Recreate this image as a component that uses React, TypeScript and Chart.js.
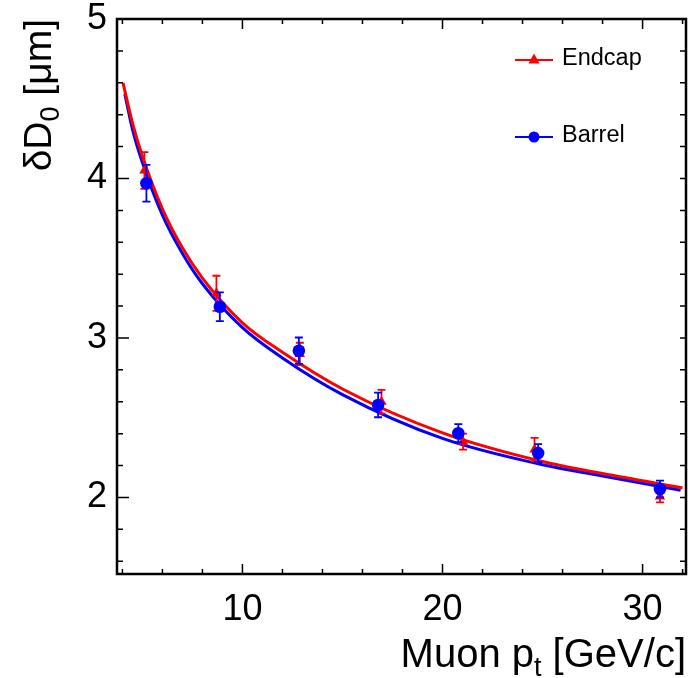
import React, { useEffect, useRef } from "react";
import { Chart, registerables } from "chart.js";

Chart.register(...registerables);

// ---- Data ----
const endcapPt = [5.1, 8.7, 12.87, 16.95, 21.03, 24.6, 30.87];
const endcapD0 = [4.05, 3.28, 2.9, 2.6, 2.35, 2.3, 2.006];
const endcapErr = [0.115, 0.11, 0.07, 0.075, 0.05, 0.073, 0.037];

const barrelPt = [5.2, 8.87, 12.82, 16.78, 20.79, 24.78, 30.87];
const barrelD0 = [3.97, 3.196, 2.92, 2.58, 2.403, 2.278, 2.053];
const barrelErr = [0.115, 0.09, 0.083, 0.077, 0.057, 0.056, 0.052];

const endcapFitPt = [4.03, 4.5, 5.0, 6.0, 7.0, 8.0, 10.0, 12.0, 15.0, 20.0, 25.0, 28.0, 32.0];
const endcapFitD0 = [4.6, 4.35, 4.14, 3.81, 3.565, 3.375, 3.095, 2.91, 2.68, 2.405, 2.225, 2.15, 2.06];

const barrelFitPt = [4.12, 4.5, 5.0, 6.0, 7.0, 8.0, 10.0, 12.0, 15.0, 20.0, 25.0, 28.0, 31.9];
const barrelFitD0 = [4.53, 4.31, 4.1, 3.77, 3.53, 3.34, 3.065, 2.875, 2.645, 2.37, 2.205, 2.135, 2.045];

const xTickLabels = [10, 20, 30];
const yTickLabels = [2, 3, 4, 5];

const seriesNames = ["Endcap", "Barrel"];
const xTitleMain = "Muon p";
const xTitleSub = "t";
const xTitleRest = " [GeV/c]";
const yTitleMain = "\u03b4D";
const yTitleSub = "0";
const yTitleRest = " [\u03bcm]";

const RED = "#ff0000";
const BLUE = "#0000ff";
const FONT = "'Liberation Sans', Arial, Helvetica, sans-serif";

const toPts = (xs: number[], ys: number[]) => xs.map((x, i) => ({ x, y: ys[i] }));

export default function App() {
  const ref = useRef<HTMLCanvasElement>(null);

  useEffect(() => {
    const canvas = ref.current;
    if (!canvas) return;
    const ctx = canvas.getContext("2d");
    if (!ctx) return;

    const errorsByDataset: Record<number, number[]> = { 0: barrelErr, 1: endcapErr };
    const colorsByDataset: Record<number, string> = { 0: BLUE, 1: RED };

    const errorBarPlugin = {
      id: "errorBars",
      beforeDatasetDraw(chart: any, args: any) {
        const errs = errorsByDataset[args.index];
        if (!errs) return;
        const ds = chart.data.datasets[args.index];
        const { ctx: c, scales } = chart;
        const y = scales.y;
        c.save();
        c.strokeStyle = colorsByDataset[args.index];
        c.lineWidth = 1.8;
        args.meta.data.forEach((el: any, i: number) => {
          const v = ds.data[i].y;
          const px = el.x;
          const top = y.getPixelForValue(v + errs[i]);
          const bot = y.getPixelForValue(v - errs[i]);
          c.beginPath();
          c.moveTo(px, top);
          c.lineTo(px, bot);
          c.moveTo(px - 4, top);
          c.lineTo(px + 4, top);
          c.moveTo(px - 4, bot);
          c.lineTo(px + 4, bot);
          c.stroke();
        });
        c.restore();
      },
    };

    const framePlugin = {
      id: "frame",
      afterDatasetsDraw(chart: any) {
        const { ctx: c, chartArea: a, scales } = chart;
        const xs = scales.x;
        const ys = scales.y;
        c.save();
        c.strokeStyle = "#000";
        c.lineWidth = 1.5;
        c.beginPath();
        for (let k = 2; k <= 16; k++) {
          const v = k * 2;
          if (v < xs.min || v > xs.max) continue;
          const px = xs.getPixelForValue(v);
          const len = v % 10 === 0 ? 10 : 5;
          c.moveTo(px, a.bottom);
          c.lineTo(px, a.bottom - len);
          c.moveTo(px, a.top);
          c.lineTo(px, a.top + len);
        }
        for (let k = 8; k <= 25; k++) {
          const v = k * 0.2;
          if (v < ys.min - 1e-9 || v > ys.max + 1e-9) continue;
          const py = ys.getPixelForValue(v);
          const major = k % 5 === 0;
          const len = major ? 12 : 6;
          c.moveTo(a.left, py);
          c.lineTo(a.left + len, py);
          c.moveTo(a.right, py);
          c.lineTo(a.right - 6, py);
        }
        c.stroke();
        c.lineWidth = 2.5;
        c.strokeRect(a.left, a.top, a.right - a.left, a.bottom - a.top);
        c.restore();
      },
      afterDraw(chart: any) {
        const { ctx: c, chartArea: a } = chart;
        c.save();
        c.fillStyle = "#000";
        // X title (right aligned at axis end)
        const big = 40;
        const sub = 27;
        c.font = `${big}px ${FONT}`;
        const wMain = c.measureText(xTitleMain).width;
        const wRest = c.measureText(xTitleRest).width;
        c.font = `${sub}px ${FONT}`;
        const wSub = c.measureText(xTitleSub).width;
        const xEnd = a.right;
        const xBase = 667;
        let cx = xEnd - (wMain + wSub + wRest);
        c.textBaseline = "alphabetic";
        c.textAlign = "left";
        c.font = `${big}px ${FONT}`;
        c.fillText(xTitleMain, cx, xBase);
        cx += wMain;
        c.font = `${sub}px ${FONT}`;
        c.fillText(xTitleSub, cx, xBase + 9);
        cx += wSub;
        c.font = `${big}px ${FONT}`;
        c.fillText(xTitleRest, cx, xBase);

        // Y title (rotated, right aligned at top)
        const ybig = 39;
        c.save();
        c.translate(51, a.top);
        c.rotate(-Math.PI / 2);
        c.font = `${ybig}px ${FONT}`;
        const yMainW = c.measureText(yTitleMain).width;
        const yRestW = c.measureText(yTitleRest).width;
        c.font = `${sub}px ${FONT}`;
        const ySubW = c.measureText(yTitleSub).width;
        let ty = -(yMainW + ySubW + yRestW);
        c.font = `${ybig}px ${FONT}`;
        c.fillText(yTitleMain, ty, 0);
        ty += yMainW;
        c.font = `${sub}px ${FONT}`;
        c.fillText(yTitleSub, ty, 8);
        ty += ySubW;
        c.font = `${ybig}px ${FONT}`;
        c.fillText(yTitleRest, ty, 0);
        c.restore();

        // Legend
        const legendItems = [
          { name: seriesNames[0], color: RED, style: "triangle", y: 60 },
          { name: seriesNames[1], color: BLUE, style: "circle", y: 137 },
        ];
        legendItems.forEach((it) => {
          c.strokeStyle = it.color;
          c.fillStyle = it.color;
          c.lineWidth = 2;
          c.beginPath();
          c.moveTo(515, it.y);
          c.lineTo(553, it.y);
          c.stroke();
          c.beginPath();
          if (it.style === "circle") {
            c.arc(534, it.y, 5.5, 0, Math.PI * 2);
          } else {
            c.moveTo(534, it.y - 6.5);
            c.lineTo(539.5, it.y + 3.5);
            c.lineTo(528.5, it.y + 3.5);
            c.closePath();
          }
          c.fill();
          c.fillStyle = "#000";
          c.font = `23.5px ${FONT}`;
          c.textBaseline = "middle";
          c.fillText(it.name, 562, it.y - 1);
        });
        c.restore();
      },
    };

    const chart = new Chart(ctx, {
      type: "line",
      data: {
        datasets: [
          {
            label: seriesNames[1],
            data: toPts(barrelPt, barrelD0),
            showLine: false,
            pointStyle: "circle",
            pointRadius: 6.3,
            backgroundColor: BLUE,
            borderColor: BLUE,
            borderWidth: 0,
          },
          {
            label: seriesNames[0],
            data: toPts(endcapPt, endcapD0),
            showLine: false,
            pointStyle: "triangle",
            pointRadius: 6,
            backgroundColor: RED,
            borderColor: RED,
            borderWidth: 0,
          },
          {
            label: seriesNames[0] + " fit",
            data: toPts(endcapFitPt, endcapFitD0),
            borderColor: RED,
            borderWidth: 3,
            pointRadius: 0,
            cubicInterpolationMode: "monotone",
            fill: false,
          },
          {
            label: seriesNames[1] + " fit",
            data: toPts(barrelFitPt, barrelFitD0),
            borderColor: BLUE,
            borderWidth: 3,
            pointRadius: 0,
            cubicInterpolationMode: "monotone",
            fill: false,
          },
        ],
      },
      options: {
        responsive: false,
        animation: false,
        events: [],
        layout: { padding: { top: 19, right: 12, left: 0, bottom: 0 } },
        plugins: {
          legend: { display: false },
          tooltip: { enabled: false },
        },
        scales: {
          x: {
            type: "linear",
            min: 3.73,
            max: 32.17,
            grid: { display: false, drawTicks: false },
            border: { display: false },
            ticks: {
              color: "#000",
              font: { family: FONT, size: 36 },
              padding: 14,
              maxRotation: 0,
            },
            afterBuildTicks: (s: any) => {
              s.ticks = xTickLabels.map((v) => ({ value: v }));
            },
            afterFit: (s: any) => {
              s.height = 104;
              s.paddingLeft = 0;
              s.paddingRight = 0;
            },
          },
          y: {
            type: "linear",
            min: 1.52,
            max: 5,
            grid: { display: false, drawTicks: false },
            border: { display: false },
            ticks: {
              color: "#000",
              font: { family: FONT, size: 36 },
              padding: 10,
            },
            afterBuildTicks: (s: any) => {
              s.ticks = yTickLabels.map((v) => ({ value: v }));
            },
            afterFit: (s: any) => {
              s.width = 117;
              s.paddingTop = 0;
              s.paddingBottom = 0;
            },
          },
        },
      },
      plugins: [errorBarPlugin, framePlugin],
    } as any);

    return () => chart.destroy();
  }, []);

  return (
    <div style={{ position: "fixed", left: 0, top: 0, width: 698, height: 678, background: "#fff" }}>
      <canvas ref={ref} width={698} height={678} style={{ display: "block" }} />
    </div>
  );
}
